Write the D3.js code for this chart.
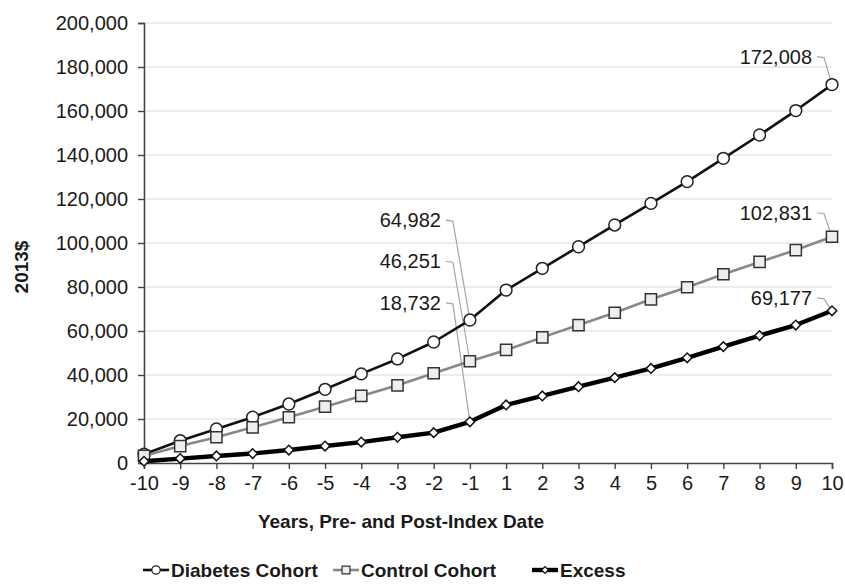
<!DOCTYPE html>
<html>
<head>
<meta charset="utf-8">
<script src="https://cdn.jsdelivr.net/npm/d3@7"></script>
<style>
  body { margin: 0; background: #fff; }
  svg { font-family: "Liberation Sans", Arial, sans-serif; }
</style>
</head>
<body>
<svg id="chart" width="845" height="584"></svg>
<script>
const years = ["-10", "-9", "-8", "-7", "-6", "-5", "-4", "-3", "-2", "-1",
  "1", "2", "3", "4", "5", "6", "7", "8", "9", "10"]
const diabetes = [4000, 10100, 15500, 20800, 26800, 33500, 40500, 47300, 55000, 64982,
  78600, 88500, 98300, 108200, 118000, 127900, 138500, 149100, 160200, 172008]
const control = [3200, 7700, 11700, 16200, 20800, 25600, 30500, 35300, 40800, 46251,
  51400, 57100, 62700, 68300, 74400, 79900, 85800, 91400, 96800, 102831]
const excess = [800, 2000, 3200, 4300, 5900, 7700, 9500, 11700, 13800, 18732,
  26400, 30500, 34700, 38800, 43000, 47800, 52900, 57900, 62700, 69177]
const yTicks = [0, 20000, 40000, 60000, 80000, 100000, 120000, 140000, 160000, 180000, 200000]
const seriesNames = ["Diabetes Cohort", "Control Cohort", "Excess"]

const svg = d3.select("#chart")
const width = 845, height = 584
const margin = { top: 23, right: 13, bottom: 121, left: 144 }
const innerW = width - margin.left - margin.right
const innerH = height - margin.top - margin.bottom

const x = d3.scalePoint().domain(years).range([0, innerW])
const y = d3.scaleLinear().domain([0, 200000]).range([innerH, 0])
const fmt = d3.format(",")

const g = svg.append("g").attr("transform", `translate(${margin.left},${margin.top})`)

// gridlines
g.append("g")
  .selectAll("line")
  .data(yTicks.filter((t) => t > 0))
  .join("line")
  .attr("x1", 0).attr("x2", innerW)
  .attr("y1", (d) => y(d)).attr("y2", (d) => y(d))
  .attr("stroke", "#d9d9d9").attr("stroke-width", 1.2)

// axes
const yAxis = g.append("g").call(d3.axisLeft(y).tickValues(yTicks).tickFormat(fmt).tickSize(6).tickPadding(10))
const xAxis = g.append("g").attr("transform", `translate(0,${innerH})`)
  .call(d3.axisBottom(x).tickSize(6).tickPadding(7))
for (let a of [yAxis, xAxis]) {
  a.select(".domain").attr("stroke", "#444").attr("stroke-width", 1.6)
  a.selectAll(".tick line").attr("stroke", "#444").attr("stroke-width", 1.4)
  a.selectAll(".tick text").attr("fill", "#1a1a1a").attr("font-size", 20)
    .attr("font-family", "Liberation Sans, Arial, sans-serif")
}

// axis titles
svg.append("text")
  .attr("transform", `translate(28,${margin.top + innerH / 2 + 24}) rotate(-90)`)
  .attr("text-anchor", "middle").attr("font-size", 19).attr("font-weight", "bold")
  .attr("fill", "#1a1a1a").text("2013$")
svg.append("text")
  .attr("x", margin.left + innerW / 2 - 87).attr("y", 528)
  .attr("text-anchor", "middle").attr("font-size", 19).attr("font-weight", "bold")
  .attr("fill", "#1a1a1a").text("Years, Pre- and Post-Index Date")

// series styles
const styles = [
  { values: diabetes, stroke: "#111", width: 2.6, shape: d3.symbolCircle, size: 110, rot: 0, fill: "#fff", mstroke: "#222" },
  { values: control, stroke: "#888", width: 2.6, shape: d3.symbolSquare, size: 125, rot: 0, fill: "#eee", mstroke: "#333" },
  { values: excess, stroke: "#000", width: 4.4, shape: d3.symbolSquare, size: 46, rot: 45, fill: "#fff", mstroke: "#111" },
]

// leader lines + labels (drawn under the series)
const annotations = [
  { s: 0, i: 19, dx: -20, dy: -28 },
  { s: 1, i: 19, dx: -20, dy: -24 },
  { s: 2, i: 19, dx: -20, dy: -13 },
  { s: 0, i: 9, dx: -29, dy: -100 },
  { s: 1, i: 9, dx: -29, dy: -100 },
  { s: 2, i: 9, dx: -29, dy: -119 },
]
const annoG = g.append("g")
for (let a of annotations) {
  const px = x(years[a.i]), py = y(styles[a.s].values[a.i])
  const tx = px + a.dx, ty = py + a.dy
  annoG.append("path")
    .attr("d", d3.line()([[tx + 5, ty], [tx + 12, ty + 1], [px, py]]))
    .attr("fill", "none").attr("stroke", "#a6a6a6").attr("stroke-width", 1.2)
  annoG.append("text")
    .attr("x", tx).attr("y", ty).attr("dy", "0.35em")
    .attr("text-anchor", "end").attr("font-size", 20).attr("fill", "#1a1a1a")
    .text(fmt(styles[a.s].values[a.i]))
}

const line = d3.line().x((d, i) => x(years[i])).y((d) => y(d))
for (let s of styles) {
  g.append("path").datum(s.values)
    .attr("d", line).attr("fill", "none")
    .attr("stroke", s.stroke).attr("stroke-width", s.width).attr("stroke-linejoin", "round")
  g.append("g").selectAll("path").data(s.values).join("path")
    .attr("transform", (d, i) => `translate(${x(years[i])},${y(d)}) rotate(${s.rot})`)
    .attr("d", d3.symbol(s.shape, s.size))
    .attr("fill", s.fill).attr("stroke", s.mstroke).attr("stroke-width", 1.5)
}

// legend
const legendX = [143, 333, 532]
const legend = svg.append("g").attr("transform", "translate(0,570)")
seriesNames.forEach((name, k) => {
  const s = styles[k]
  const item = legend.append("g").attr("transform", `translate(${legendX[k]},0)`)
  item.append("line").attr("x1", 0).attr("x2", 26).attr("y1", 0).attr("y2", 0)
    .attr("stroke", s.stroke).attr("stroke-width", s.width)
  item.append("path").attr("transform", `translate(13,0) rotate(${s.rot})`)
    .attr("d", d3.symbol(s.shape, s.size * 0.5))
    .attr("fill", s.fill).attr("stroke", s.mstroke).attr("stroke-width", 1.2)
  item.append("text").attr("x", 28).attr("dy", "0.35em")
    .attr("font-size", 19).attr("font-weight", "bold").attr("fill", "#1a1a1a").text(name)
})
</script>
</body>
</html>
